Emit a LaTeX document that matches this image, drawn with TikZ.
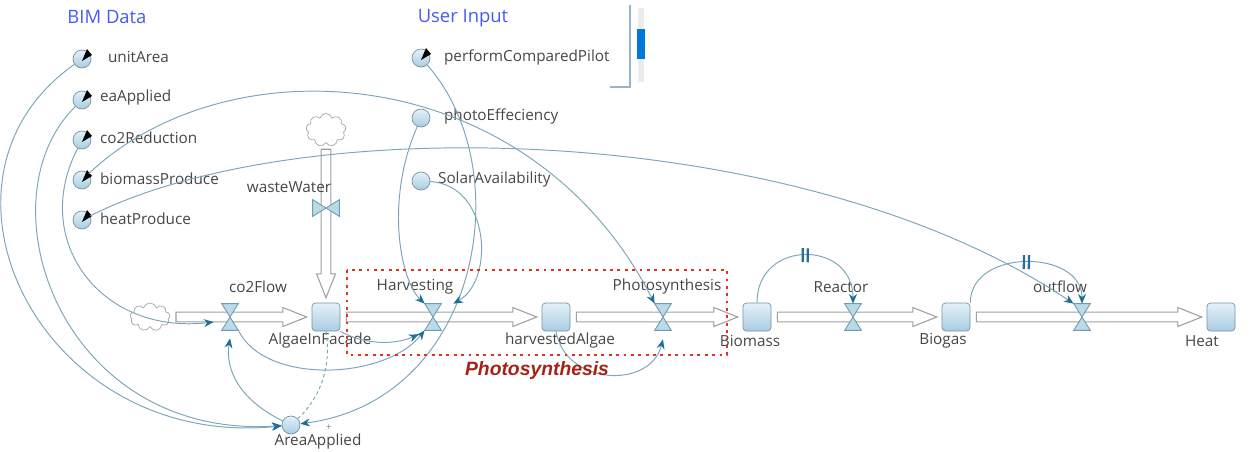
\documentclass[tikz,border=0pt]{standalone}
\usepackage{fontspec}
\setmainfont{Open Sans}
\newfontfamily\boxfont{Liberation Sans}
\usepackage{tikz}
\usetikzlibrary{arrows.meta, calc, shapes.symbols, backgrounds, decorations.markings}
\definecolor{linkblue}{RGB}{125,165,185}
\definecolor{headblue}{RGB}{30,110,150}
\definecolor{labelgray}{RGB}{70,70,70}
\definecolor{bimblue}{RGB}{70,90,245}
\definecolor{stocktop}{RGB}{228,242,249}
\definecolor{stockfill}{RGB}{168,204,224}
\definecolor{stockline}{RGB}{120,145,160}
\definecolor{valvefill}{RGB}{185,218,232}
\definecolor{valveline}{RGB}{115,155,175}
\definecolor{boxred}{RGB}{225,50,30}
\definecolor{boxtext}{RGB}{165,35,20}
\definecolor{sliderblue}{RGB}{0,120,215}
\definecolor{sliderline}{RGB}{150,180,200}
\definecolor{delayblue}{RGB}{40,110,150}

% hollow flow pipe between two anchors
\newcommand{\flowpipe}[2]{%
  \coordinate (pa) at ($(#1)!3.4pt!(#2)$);
  \coordinate (pb) at ($(#2)!2.8pt!(#1)$);
  \coordinate (pc) at ($(pb)!13.6pt!(pa)$);
  \draw[pipe] ($(pa)!2.8pt!90:(pb)$) -- ($(pc)!2.8pt!-90:(pa)$)
    -- ($(pc)!5.4pt!-90:(pa)$) -- (pb) -- ($(pc)!5.4pt!90:(pa)$)
    -- ($(pc)!2.8pt!90:(pa)$) -- ($(pa)!2.8pt!-90:(pb)$) -- cycle;}

\begin{document}
\begin{tikzpicture}[
    x=0.02cm, y=-0.02cm,
    lbl/.style={font=\fontsize{8.7}{10}\selectfont, text=labelgray, inner sep=1pt},
    grouplbl/.style={font=\fontsize{10.5}{12}\selectfont, text=bimblue},
    aux/.style={circle, minimum size=0.36cm, inner sep=0pt, draw=stockline, top color=stocktop, bottom color=stockfill},
    stock/.style={rectangle, rounded corners=2pt, minimum size=0.56cm, inner sep=0pt, draw=stockline, top color=stocktop, bottom color=stockfill},
    valve/.style={minimum width=0.32cm, minimum height=0.52cm, inner sep=0pt},
    valveshape/.style={draw=valveline, fill=valvefill, line width=0.5pt},
    cloudsrc/.style={cloud, cloud puffs=9, cloud ignores aspect, draw=gray!70, fill=white, minimum width=0.8cm, minimum height=0.56cm, inner sep=0pt},
    pipe/.style={draw=gray!75, fill=white, line width=0.6pt},
    link/.style={draw=linkblue, line width=0.55pt, -{Stealth[length=5.5pt, width=4.5pt, color=headblue]}},
    delay/.style={link, postaction={decorate, decoration={markings, mark=at position 0.5 with {\draw[delayblue, line width=1.3pt, -] (-2.5,-7) -- (-2.5,7) (2.5,-7) -- (2.5,7);}}}}
]
\useasboundingbox (0,0) rectangle (1254,451);

% BIM data
\node[grouplbl] (bim) at (107,17) {BIM Data};
\node[aux] (unitarea) at (82,59) {};
\node[aux] (eaapplied) at (82,100) {};
\node[aux] (co2red) at (82,140) {};
\node[aux] (bioprod) at (82,180) {};
\node[aux] (heatprod) at (82,220) {};
\node[lbl, anchor=west] (unitareaL) at (106,57) {unitArea};
\node[lbl, anchor=west] (eaappliedL) at (98,98) {eaApplied};
\node[lbl, anchor=west] (co2redL) at (98,138) {co2Reduction};
\node[lbl, anchor=west] (bioprodL) at (98,179) {biomassProduce};
\node[lbl, anchor=west] (heatprodL) at (98,219) {heatProduce};

% User input
\node[grouplbl] (user) at (463,18) {User Input};
\node[aux] (pilot) at (421,58) {};
\node[aux] (photoeff) at (421,118) {};
\node[aux] (solar) at (421,181) {};
\node[lbl, anchor=west] (pilotL) at (442,57) {performComparedPilot};
\node[lbl, anchor=west] (photoeffL) at (442,116) {photoEffeciency};
\node[lbl, anchor=west] (solarL) at (436,180) {SolarAvailability};

% input markers
\foreach \a in {unitarea,eaapplied,co2red,bioprod,heatprod,pilot}
  \fill[black] ($(\a)+(0,2)$) -- ($(\a)+(5,-10)$) -- ($(\a)+(10,-4)$) -- cycle;

% slider
\draw[sliderline, line width=0.6pt] (630,5) -- (630,87) -- (610,87);
\fill[gray!15] (638,8) rectangle (644,82);
\fill[sliderblue] (637,29) rectangle (645,59);

% Stocks and sources
\node[cloudsrc] (cco2) at (150,317) {};
\node[cloudsrc, minimum height=0.66cm] (cww) at (326,130) {};
\node[stock] (algae) at (326,317) {};
\node[stock] (harvested) at (556,317) {};
\node[stock] (biomass) at (757,317) {};
\node[stock] (biogas) at (956,317) {};
\node[stock] (heatout) at (1221,317) {};
\node[lbl] (algaeL) at (320,341) {AlgaeInFacade};
\node[lbl] (harvestedL) at (560,341) {harvestedAlgae};
\node[lbl] (biomassL) at (750,341) {Biomass};
\node[lbl] (biogasL) at (943,341) {Biogas};
\node[lbl] (heatoutL) at (1202,341) {Heat};

% Flows
\node[valve] (vco2) at (230,317) {};
\node[valve, minimum width=0.52cm, minimum height=0.32cm] (vwaste) at (326,208) {};
\node[valve] (vharvest) at (433,317) {};
\node[valve] (vphoto) at (663,317) {};
\node[valve] (vreactor) at (853,317) {};
\node[valve] (voutflow) at (1082,317) {};
\node[lbl] (vco2L) at (258,287) {co2Flow};
\node[lbl] (vwasteL) at (289,187) {wasteWater};
\node[lbl] (vharvestL) at (415,287) {Harvesting};
\node[lbl] (vphotoL) at (667,287) {Photosynthesis};
\node[lbl] (vreactorL) at (841,287) {Reactor};
\node[lbl] (voutflowL) at (1060,287) {outflow};

\begin{scope}[on background layer]
\flowpipe{cco2.east}{algae.west}
\flowpipe{cww.south}{algae.north}
\flowpipe{algae.east}{harvested.west}
\flowpipe{harvested.east}{biomass.west}
\flowpipe{biomass.east}{biogas.west}
\flowpipe{biogas.east}{heatout.west}
\end{scope}

\foreach \v in {vco2,vharvest,vphoto,vreactor,voutflow}
  \draw[valveshape] (\v.north west) -- (\v.north east) -- (\v.south west) -- (\v.south east) -- cycle;
\draw[valveshape] (vwaste.north west) -- (vwaste.south west) -- (vwaste.north east) -- (vwaste.south east) -- cycle;

% AreaApplied
\node[aux] (area) at (291,425) {};
\node[lbl] (areaL) at (318,442) {AreaApplied};
\node[font=\fontsize{5.5}{6}\selectfont, text=gray, inner sep=0pt] (plus) at (329,428) {+};

% BIM data links
\draw[link] (unitarea) .. controls (-90,180) and (40,450) .. (area);
\draw[link] (eaapplied) .. controls (-20,200) and (60,440) .. (area);
\draw[link] (co2red) .. controls (30,240) and (100,335) .. ([shift={(-8,5)}]vco2.west);
\draw[link] (bioprod) .. controls (230,40) and (530,60) .. (vphoto.north west);
\draw[link] (heatprod) .. controls (300,110) and (800,120) .. (voutflow.north west);

% User input links
\draw[link] (pilot) .. controls (520,170) and (480,400) .. (area);
\draw[link] (photoeff) .. controls (385,200) and (400,280) .. (vharvest.north west);
\draw[link] (solar) .. controls (490,185) and (495,280) .. ([shift={(12,0)}]vharvest.north east);

% Model links
\draw[link] (area) .. controls (240,400) and (225,370) .. ([shift={(0,8)}]vco2.south);
\draw[link] (vco2.south east) .. controls (265,385) and (385,380) .. (vharvest.south west);
\draw[link] (algae.south east) .. controls (365,345) and (395,345) .. ([shift={(-6,4)}]vharvest.south west);
\draw[link, -, dash pattern=on 2pt off 1.5pt] (algae.south) .. controls (332,370) and (318,400) .. (area);
\draw[link] (harvested.south) .. controls (565,385) and (650,390) .. ([shift={(0,9)}]vphoto.south);

% Delays
\draw[delay] (biomass.north) to[out=90, in=90, looseness=1.7] (vreactor.north);
\draw[delay] (biogas.north east) to[out=90, in=90, looseness=1.25] (voutflow.north);

% Photosynthesis group
\draw[boxred, line width=1.6pt, dash pattern=on 1.6pt off 2.6pt] (347,270) rectangle (727,355);
\node[font=\boxfont\bfseries\itshape\fontsize{11}{13}\selectfont, text=boxtext] (phlabel) at (537,370) {Photosynthesis};
\end{tikzpicture}
\end{document}
